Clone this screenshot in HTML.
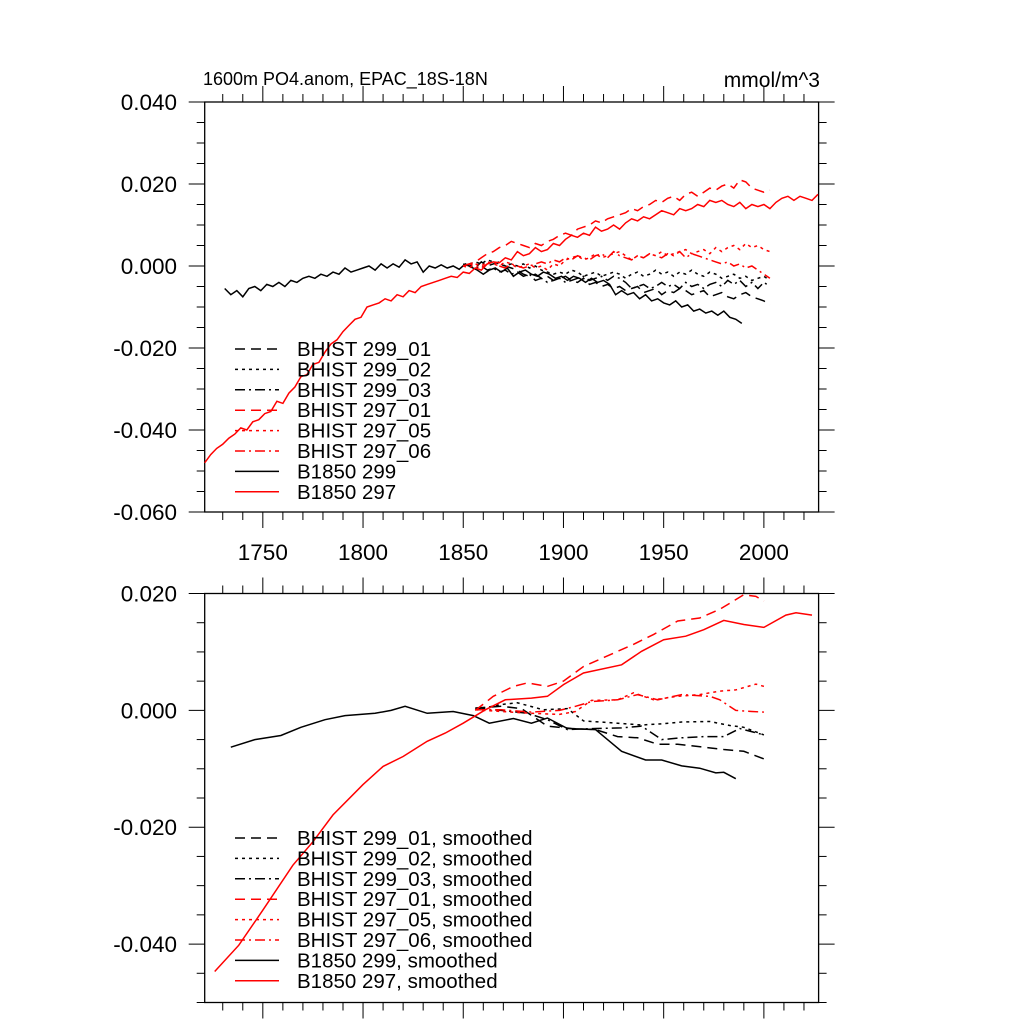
<!DOCTYPE html>
<html><head><meta charset="utf-8"><style>
body{margin:0;background:#fff}
svg{display:block;font-family:"Liberation Sans",sans-serif}
</style></head><body>
<svg id="chart" width="1024" height="1024" viewBox="0 0 1024 1024" xmlns="http://www.w3.org/2000/svg">
<rect width="1024" height="1024" fill="#fff"/>
<text x="203" y="85" font-size="18">1600m PO4.anom, EPAC_18S-18N</text>
<text x="820" y="87" font-size="21" text-anchor="end">mmol/m^3</text>
<g id="top"></g><g id="bot"></g>
</svg>
<script>
// ---- data (values in units of 1e-3 mmol/m^3) ----
const xTickYears = [1750,1800,1850,1900,1950,2000];
const topYTicks = [0.040,0.020,0.000,-0.020,-0.040,-0.060];
const botYTicks = [0.020,0.000,-0.020,-0.040];
const b297Start = 1721, b297Step = 3;
const b297 = [-48,-46,-44.5,-43.5,-42,-41,-39.5,-40,-38,-37.5,-36,-35.5,-33,-33.5,-31,-29.5,-27,-26.5,-24,-23.5,-21,-19,-18,-16,-14.5,-13,-12.5,-10,-9.5,-9,-8,-8.5,-7,-7.5,-6,-6.5,-5,-4.5,-4,-3.5,-3,-2.5,-2.8,-1.5,-1.8,-0.5,-1,0.5,1,0.8,2,1.5,3.5,2.5,3,4.5,3.5,4,5.5,5,6.5,7.5,7,8,7.5,9.5,8.5,9,10,9,10.5,11.5,11,12,11.5,12.5,13.5,13,12.5,14,13.5,14,15,14.5,16,15.5,16,15,14.5,15.5,14,15,14.5,15,14,15.5,16.5,17,16,17,16.5,16,17.5];
const b299Start = 1731, b299Step = 3;
const b299 = [-5.5,-7,-6,-7.5,-5.5,-5,-6,-4.5,-5,-4,-5,-3.5,-4,-3,-2.5,-3,-2,-2.5,-1.5,-2,-0.5,-1.5,-1,-0.5,0,-1,0.5,-0.5,0.5,-0.3,1.5,0.5,1,-1.5,0,-0.5,0.3,-0.5,0,-0.8,0.5,-0.3,-1,-2,-1,-0.5,-1.5,-0.5,-2.5,-1.5,-1,-2,-2.5,-1.5,-2,-3,-2.5,-3.5,-2.5,-3,-4,-3,-4,-3.5,-4.5,-7,-6,-7,-6.5,-8,-7,-8.5,-8,-9,-9.5,-8.5,-10,-9.5,-11,-10.5,-11.5,-11,-12,-11,-12.5,-13,-14];
const histStart = 1850, histStep = 3;
const h297_01 = [0,0.5,1,2,3,3.5,4.5,5,6,5.5,5,4.5,5.5,5,6,6.5,7.5,8,7.5,9,9.5,10,11,10.5,11.5,12,12.5,13,14,13.5,14.5,15,16,15.5,16.5,17,16,17.5,18,17,18,19,18.5,19.5,20,19,21,20.5,19,18.5,18,18.5];
const h297_05 = [0,-0.5,0.5,0,1,0.5,0,1,0.5,-0.5,0,0.5,-0.5,0,-1,0.5,0,1.5,2,2.5,1.5,2,3,2,2.5,3,3.5,2.5,1.5,2.5,2,3,2.5,3.5,2.5,3,3.5,4,3,3.5,4,3,4.5,3.5,4.5,5,4,5.5,4.5,5,4,3.5];
const h297_06 = [0,0.5,0,-0.5,0.5,1,0,-0.5,0.5,0,-0.5,0,0.5,1,0.5,1.5,1,2,1.5,2.5,2,1.5,2.5,3,2,3.5,2.5,2,1.5,2.5,2,3,2.5,2,3,2.5,3.5,2,3,2.5,2,1.5,1,0.5,1,0,0.5,-0.5,0,-1,-2,-3];
const h299_01 = [0,0.5,-0.5,1,0,0.5,1,0,-0.5,-1,-2,-2.5,-2,-3,-2.5,-3.5,-3,-2.5,-3.5,-4,-3,-4.5,-4,-5,-4.5,-5.5,-5,-6,-5.5,-5,-6.5,-6,-5.5,-7,-6,-6.5,-5.5,-6,-7,-6.5,-6,-7.5,-7,-6.5,-7.5,-8,-7,-6.5,-7.5,-8,-8.5,-9.5];
const h299_02 = [0,0.5,1,0.5,1.5,1,0.5,0,0.5,0,0.5,-0.5,0,-1,-1.5,-2,-1.5,-2,-1,-1.5,-2.5,-2,-1.5,-2.5,-2,-1.5,-2,-3,-2,-1.5,-2.5,-2,-1,-2,-1.5,-2.5,-1.5,-2,-1,-2,-2.5,-1.5,-2,-3,-2.5,-2,-3,-2.5,-3.5,-3,-2.5,-3.5];
const h299_03 = [0.5,0,-0.5,0,-1,-0.5,-1.5,-1,-2,-1.5,-2.5,-2,-3.5,-3,-4,-3.5,-3,-4,-3.5,-3,-2.5,-3.5,-3,-2.5,-3.5,-2.5,-3,-4,-5.5,-5,-4.5,-5.5,-5,-4,-5,-4.5,-5.5,-4,-5,-4.5,-5.5,-4.5,-4,-5,-3.5,-4.5,-3.5,-5,-4,-5.5,-4,-5];
// smoothed (year, value) pairs
const s297Years = [1726,1738,1750,1765,1775,1785,1800,1810,1820,1832,1841,1850,1861,1871,1884,1892,1900,1910,1929,1939,1950,1961,1970,1980,1990,2000,2011,2016,2024];
const s297Vals = [-44.7,-40.2,-34.2,-26.5,-22.5,-17.9,-12.7,-9.6,-7.9,-5.3,-3.9,-2.2,0.1,1.8,2.1,2.4,4.4,6.4,7.8,10.1,12.1,12.7,13.8,15.4,14.7,14.2,16.3,16.7,16.3];
const s299Years = [1734,1746,1759,1769,1781,1791,1806,1814,1821,1832,1845,1855,1863,1875,1884,1892,1902,1916,1929,1941,1949,1959,1968,1976,1980,1986];
const s299Vals = [-6.3,-5,-4.3,-2.9,-1.6,-0.9,-0.5,0,0.7,-0.5,-0.2,-0.9,-2.2,-1.4,-2.2,-1.3,-3.1,-3.3,-7,-8.5,-8.5,-9.5,-9.9,-10.7,-10.6,-11.7];
const sh297_01Years = [1856,1865,1875,1882,1892,1900,1910,1923,1935,1945,1957,1968,1978,1990,1996,2000];
const sh297_01Vals = [0,2.4,4.1,4.7,4.1,5,7.5,9.5,11.3,13,15.3,15.8,17.3,19.8,19.5,18.7];
const shYears = [1856,1869,1884,1898,1906,1914,1927,1935,1945,1957,1968,1978,1986,1996,2000];
const sh297_05Vals = [0.1,-0.2,-0.5,-0.7,-0.2,1.7,1.8,3,1.8,2.4,2.7,3.3,3.5,4.5,4.1];
const sh297_06Years = [1856,1869,1884,1898,1906,1914,1927,1937,1947,1959,1973,1978,1986,1994,2000];
const sh297_06Vals = [0.1,0.1,-0.3,0,0.7,1.5,1.8,2.7,1.8,2.7,2.4,1.8,0,-0.2,-0.3];
const sh299_01Years = [1856,1869,1879,1892,1904,1916,1927,1937,1947,1957,1970,1980,1990,2000];
const sh299_01Vals = [0.4,0.7,0.3,-2.7,-3.1,-3.3,-4.5,-4.7,-5.8,-5.8,-6.3,-6.7,-7,-8.3];
const sh299_02Years = [1856,1869,1877,1890,1902,1910,1927,1939,1949,1959,1973,1983,1990,2000];
const sh299_02Vals = [0.1,1,1.3,0.1,0.3,-1.8,-2.2,-2.5,-2.3,-2,-1.9,-2.6,-2.9,-4.2];
const sh299_03Years = [1856,1869,1882,1892,1902,1916,1929,1939,1949,1959,1970,1980,1988,2000];
const sh299_03Vals = [0.3,0,-0.5,-1.6,-3.3,-3.1,-3,-2.7,-5,-4.7,-4.5,-4.5,-3.1,-4.2];
const legendTop = ["BHIST 299_01","BHIST 299_02","BHIST 299_03","BHIST 297_01","BHIST 297_05","BHIST 297_06","B1850 299","B1850 297"];

// ---- drawing ----
const NS="http://www.w3.org/2000/svg";
const X0=204.7,X1=818.6,YR0=1721,YR1=2027.3;
const xs=y=>X0+(y-YR0)/(YR1-YR0)*(X1-X0);
const styles={d:"10,6",o:"3,4",dd:"10,4,2,4",s:""};
function el(parent,tag,attrs){const e=document.createElementNS(NS,tag);for(const k in attrs)e.setAttribute(k,attrs[k]);parent.appendChild(e);return e;}
function panel(g,top,bot,vmax,vmin,yt,labelX,name){
  const ys=v=>top+(vmax-v)/(vmax-vmin)*(bot-top);
  const frame=el(g,"rect",{x:X0,y:top,width:X1-X0,height:bot-top,fill:"none",stroke:"#000","stroke-width":1.3});
  
  
  const ticks=el(g,"g",{stroke:"#000","stroke-width":1});
  
  
  for(let yr=1730;yr<=2020;yr+=10){const maj=yr%50===0;const L=maj?16:8;const x=xs(yr);
    el(ticks,"line",{x1:x,x2:x,y1:top,y2:top-L});el(ticks,"line",{x1:x,x2:x,y1:bot,y2:bot+L});}
  for(let v=vmin;v<=vmax+1e-9;v+=0.005){const r=Math.round(v*1000);const maj=r%20===0;const L=maj?16:8;const y=ys(v);
    el(ticks,"line",{x1:X0,x2:X0-L,y1:y,y2:y});el(ticks,"line",{x1:X1,x2:X1+L,y1:y,y2:y});}
  yt.forEach(v=>{const t=el(g,"text",{x:177,y:ys(v)+8,"font-size":22.5,"text-anchor":"end"});t.textContent=v.toFixed(3);
    
    });
  if(labelX) xTickYears.forEach(yr=>{const t=el(g,"text",{x:xs(yr),y:560,"font-size":22.5,"text-anchor":"middle"});t.textContent=yr;
    
    });
  return ys;
}
function line(g,ys,years,vals,color,dash,name){
  const d=vals.map((v,i)=>(i?"L":"M")+xs(years[i]).toFixed(1)+","+ys(v/1000).toFixed(1)).join("");
  const p=el(g,"path",{d:d,fill:"none",stroke:color,"stroke-width":1.5,"stroke-dasharray":dash});
  
  
}
const idx=(start,step,arr)=>arr.map((_,i)=>start+i*step);
function legend(g,y0,suffix,name){
  const cols=["#000","#000","#000","red","red","red","#000","red"],ds=["d","o","dd","d","o","dd","s","s"];
  legendTop.forEach((lab,i)=>{const y=y0+i*20.4;
    const l=el(g,"line",{x1:235,x2:279,y1:y,y2:y,stroke:cols[i],"stroke-width":1.5,"stroke-dasharray":styles[ds[i]]});
    
    
    const t=el(g,"text",{x:297,y:y+7,"font-size":20.5});t.textContent=lab+suffix;
    
    });
}
const gt=document.getElementById("top"),gb=document.getElementById("bot");


const yt=panel(gt,102,512,0.04,-0.06,topYTicks,true,"top");
line(gt,yt,idx(b299Start,b299Step,b299),b299,"#000","","b1850-299-line");
line(gt,yt,idx(histStart,histStep,h299_01),h299_01,"#000",styles.d,"bhist-299-01-line");
line(gt,yt,idx(histStart,histStep,h299_02),h299_02,"#000",styles.o,"bhist-299-02-line");
line(gt,yt,idx(histStart,histStep,h299_03),h299_03,"#000",styles.dd,"bhist-299-03-line");
line(gt,yt,idx(histStart,histStep,h297_05),h297_05,"red",styles.o,"bhist-297-05-line");
line(gt,yt,idx(histStart,histStep,h297_06),h297_06,"red",styles.dd,"bhist-297-06-line");
line(gt,yt,idx(histStart,histStep,h297_01),h297_01,"red",styles.d,"bhist-297-01-line");
line(gt,yt,idx(b297Start,b297Step,b297),b297,"red","","b1850-297-line");
legend(gt,349,"","top");
const yb=panel(gb,593.5,1002.5,0.02,-0.05,botYTicks,false,"bottom");
line(gb,yb,s299Years,s299Vals,"#000","","b1850-299-smoothed");
line(gb,yb,sh299_01Years,sh299_01Vals,"#000",styles.d,"bhist-299-01-smoothed");
line(gb,yb,sh299_02Years,sh299_02Vals,"#000",styles.o,"bhist-299-02-smoothed");
line(gb,yb,sh299_03Years,sh299_03Vals,"#000",styles.dd,"bhist-299-03-smoothed");
line(gb,yb,shYears,sh297_05Vals,"red",styles.o,"bhist-297-05-smoothed");
line(gb,yb,sh297_06Years,sh297_06Vals,"red",styles.dd,"bhist-297-06-smoothed");
line(gb,yb,sh297_01Years,sh297_01Vals,"red",styles.d,"bhist-297-01-smoothed");
line(gb,yb,s297Years,s297Vals,"red","","b1850-297-smoothed");
legend(gb,838,", smoothed","bottom");
</script>
</body></html>
